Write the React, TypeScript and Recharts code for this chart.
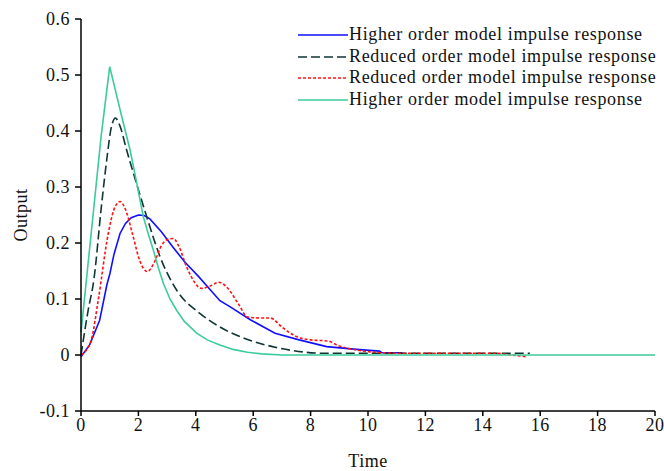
import React from "react";
import { LineChart, Line, XAxis, YAxis } from "recharts";

// ---- data ----
const blueT = [0, 0.3, 0.65, 0.9, 1.01, 1.15, 1.36, 1.55, 1.75, 2.0, 2.2, 2.4, 2.8, 3.2, 3.6, 4.1, 4.84, 5.2, 5.9, 6.76, 7.6, 8.56, 9.6, 10.4, 10.48, 11.2];
const blueV = [-0.003, 0.018, 0.062, 0.125, 0.146, 0.18, 0.217, 0.235, 0.245, 0.25, 0.249, 0.243, 0.22, 0.193, 0.167, 0.14, 0.097, 0.086, 0.063, 0.039, 0.027, 0.015, 0.01, 0.007, 0.004, 0.004];

const dashT = [0, 0.25, 0.45, 0.7, 0.9, 1.05, 1.2, 1.35, 1.59, 2.06, 2.29, 2.75, 3.33, 4.15, 4.84, 5.9, 6.76, 8.56, 15.64];
const dashV = [0, 0.08, 0.135, 0.26, 0.35, 0.405, 0.423, 0.41, 0.366, 0.285, 0.247, 0.176, 0.116, 0.074, 0.05, 0.026, 0.014, 0.003, 0.003];

const redT = [0, 0.2, 0.36, 0.6, 0.95, 1.15, 1.36, 1.55, 1.8, 2.05, 2.31, 2.55, 2.8, 3.05, 3.22, 3.4, 3.7, 4.2, 4.5, 4.8, 5.1, 5.5, 5.8, 6.3, 6.6, 7.0, 7.5, 8.0, 8.6, 9.0, 9.6, 10.5, 11.5, 14.5, 15.0, 15.5];
const redV = [0, 0.01, 0.027, 0.098, 0.217, 0.26, 0.274, 0.26, 0.215, 0.168, 0.149, 0.165, 0.195, 0.207, 0.208, 0.195, 0.155, 0.119, 0.123, 0.13, 0.12, 0.09, 0.068, 0.066, 0.066, 0.05, 0.033, 0.027, 0.025, 0.016, 0.009, 0.004, 0.003, 0.003, 0.0, -0.003];

const greenT = [0, 0.7, 1.0, 1.4, 1.71, 1.95, 2.17, 2.35, 2.52, 2.7, 2.87, 3.1, 3.33, 3.6, 4.03, 4.4, 4.84, 5.3, 5.8, 6.3, 7.0, 20];
const greenV = [0.04, 0.39, 0.515, 0.43, 0.366, 0.305, 0.247, 0.215, 0.1875, 0.155, 0.128, 0.1, 0.08, 0.06, 0.039, 0.027, 0.018, 0.01, 0.005, 0.002, 0.0, 0.0];

const xTicks = [0, 2, 4, 6, 8, 10, 12, 14, 16, 18, 20];
const yTicks = [-0.1, 0, 0.1, 0.2, 0.3, 0.4, 0.5, 0.6];

const legendLabels = [
  "Higher order model impulse response",
  "Reduced order model impulse response",
  "Reduced order model impulse response",
  "Higher order model impulse response",
];

const toPts = (ts: number[], vs: number[]) => ts.map((t, i) => ({ t, v: vs[i] }));

const FONT = "'Liberation Serif', 'Times New Roman', serif";
const FS = 18;
const LS = 0.5;

const series = [
  { key: "s1", data: toPts(blueT, blueV), color: "#1010ff", dash: undefined as string | undefined, type: "linear" as const, name: legendLabels[0] },
  { key: "s2", data: toPts(dashT, dashV), color: "#0f3535", dash: "9 4", type: "monotone" as const, name: legendLabels[1] },
  { key: "s3", data: toPts(redT, redV), color: "#ff1010", dash: "3 2", type: "monotone" as const, name: legendLabels[2] },
  { key: "s4", data: toPts(greenT, greenV), color: "#3ccb9a", dash: undefined as string | undefined, type: "linear" as const, name: legendLabels[3] },
];

const LegendBox = () => (
  <div style={{ position: "absolute", left: 298, top: 24, fontFamily: FONT, fontSize: FS, letterSpacing: 0.65, color: "#111" }}>
    {series.map((s) => (
      <div key={s.key} style={{ display: "flex", alignItems: "center", height: 21.7 }}>
        <svg width={50} height={6} style={{ marginRight: 1 }}>
          <line x1={0} y1={3} x2={50} y2={3} stroke={s.color} strokeWidth={1.6} strokeDasharray={s.dash} />
        </svg>
        <span style={{ whiteSpace: "nowrap", lineHeight: "21.7px" }}>{s.name}</span>
      </div>
    ))}
  </div>
);

const tickStyle = { fill: "#111", fontSize: FS, fontFamily: FONT, letterSpacing: LS };

export default function App() {
  return (
    <div style={{ position: "absolute", left: 0, top: 0, width: 664, height: 471, background: "#fff" }}>
      <LineChart width={664} height={471} margin={{ top: 19, right: 9, bottom: 10, left: 0 }}>
        <XAxis
          dataKey="t"
          type="number"
          domain={[0, 20]}
          ticks={xTicks}
          allowDuplicatedCategory={false}
          interval={0}
          tickSize={5}
          tickMargin={2}
          height={50}
          axisLine={{ stroke: "#000", strokeWidth: 1.5 }}
          tickLine={{ stroke: "#000", strokeWidth: 1.5 }}
          tick={tickStyle}
          label={{
            content: () => (
              <text x={368} y={467} textAnchor="middle" fill="#111" fontSize={FS} fontFamily={FONT} letterSpacing={LS}>
                Time
              </text>
            ),
          }}
        />
        <YAxis
          type="number"
          domain={[-0.1, 0.6]}
          ticks={yTicks}
          interval={0}
          width={81}
          tickSize={6}
          tickMargin={5}
          axisLine={{ stroke: "#000", strokeWidth: 1.5 }}
          tickLine={{ stroke: "#000", strokeWidth: 1.5 }}
          tick={tickStyle}
          label={{
            content: () => (
              <text x={0} y={0} transform="translate(27,215) rotate(-90)" textAnchor="middle" fill="#111" fontSize={FS} fontFamily={FONT} letterSpacing={LS}>
                Output
              </text>
            ),
          }}
        />
        {series.map((s) => (
          <Line
            key={s.key}
            data={s.data}
            dataKey="v"
            name={s.name}
            type={s.type}
            stroke={s.color}
            strokeWidth={1.6}
            strokeDasharray={s.dash}
            dot={false}
            activeDot={false}
            isAnimationActive={false}
          />
        ))}
      </LineChart>
      <LegendBox />
    </div>
  );
}
